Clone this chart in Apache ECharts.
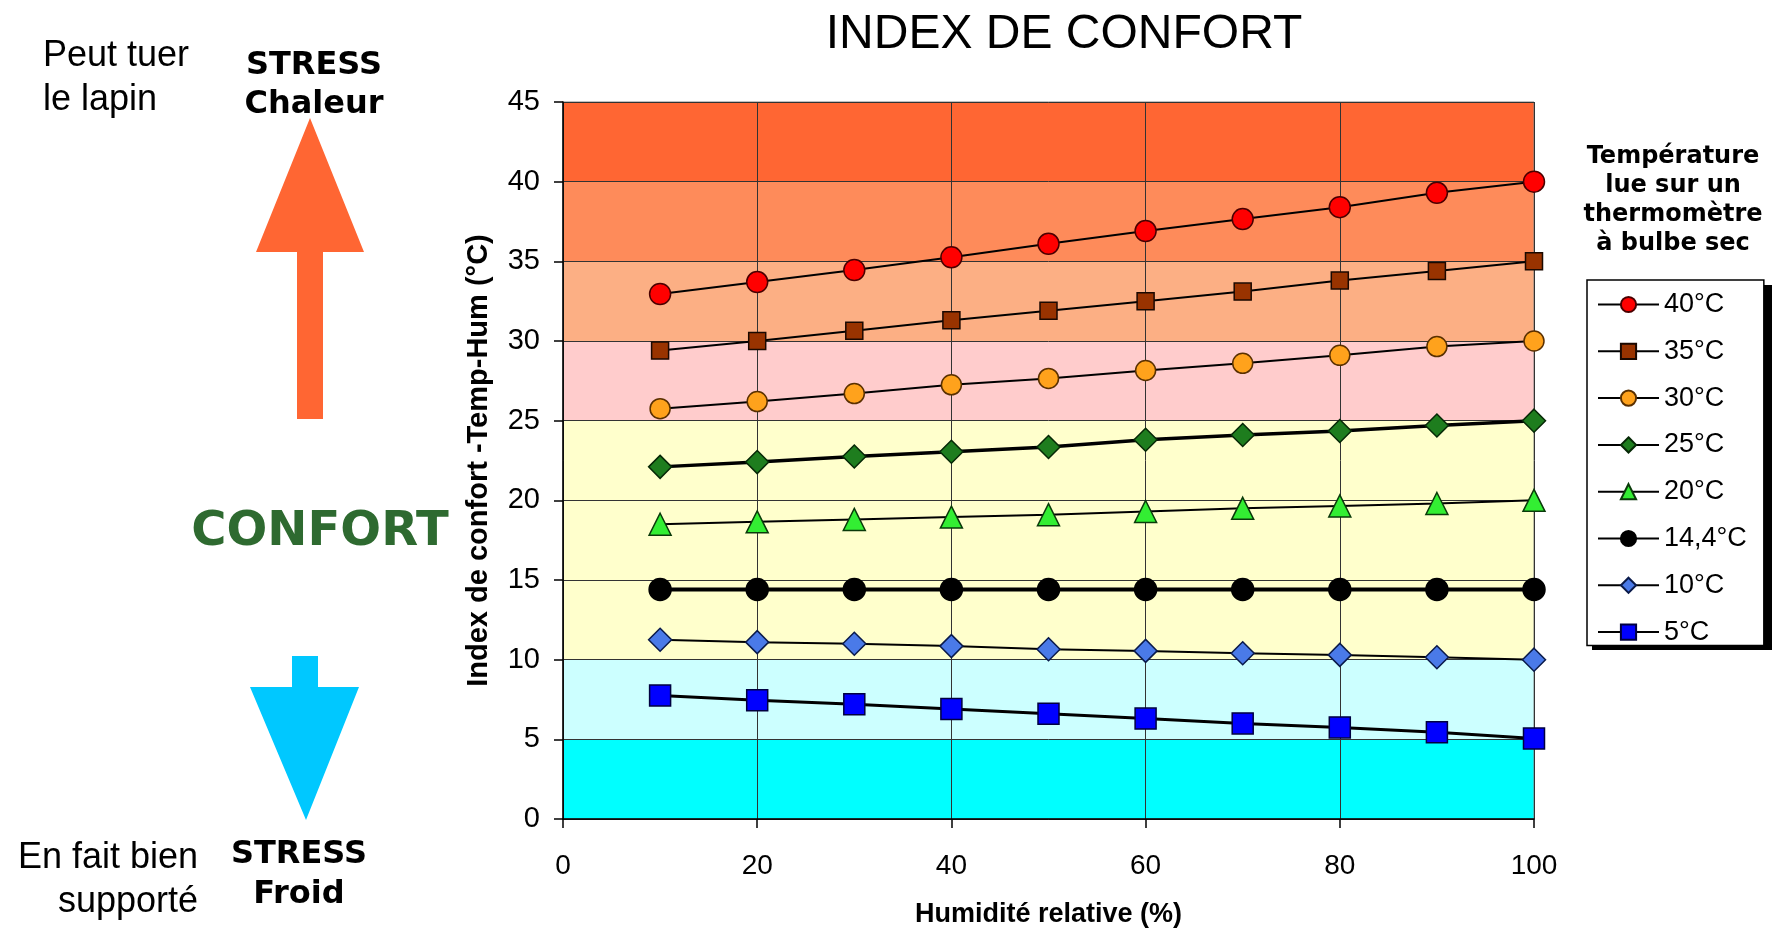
<!DOCTYPE html>
<html>
<head>
<meta charset="utf-8">
<title>Index de confort</title>
<script src="https://cdn.jsdelivr.net/npm/echarts@6/dist/echarts.min.js"></script>
<style>
  html, body { margin: 0; padding: 0; background: #fff; }
  #chart { width: 1776px; height: 929px; }
</style>
</head>
<body>
<div id="chart"></div>
<script>
// Relative humidity (%) on the x axis
const humidity = [10, 20, 30, 40, 50, 60, 70, 80, 90, 100];

// Comfort index (°C) for each dry-bulb temperature
const t40 = [32.95, 33.7, 34.45, 35.25, 36.1, 36.9, 37.65, 38.4, 39.3, 40.0];
const t35 = [29.4, 30.0, 30.65, 31.3, 31.9, 32.5, 33.1, 33.8, 34.4, 35.0];
const t30 = [25.75, 26.2, 26.7, 27.25, 27.65, 28.15, 28.6, 29.1, 29.65, 30.0];
const t25 = [22.1, 22.4, 22.75, 23.05, 23.35, 23.8, 24.1, 24.35, 24.7, 25.0];
const t20 = [18.5, 18.65, 18.8, 18.95, 19.1, 19.3, 19.5, 19.65, 19.8, 20.0];
const t14 = [14.4, 14.4, 14.4, 14.4, 14.4, 14.4, 14.4, 14.4, 14.4, 14.4];
const t10 = [11.25, 11.1, 11.0, 10.85, 10.65, 10.55, 10.4, 10.3, 10.15, 10.0];
const t5 = [7.75, 7.45, 7.2, 6.9, 6.6, 6.3, 6.0, 5.75, 5.45, 5.05];

const seriesNames = ['40°C', '35°C', '30°C', '25°C', '20°C', '14,4°C', '10°C', '5°C'];
const seriesValues = [t40, t35, t30, t25, t20, t14, t10, t5];

// Background comfort zones (bounds in °C) and their fills
const zoneBounds = [0, 5, 10, 25, 30, 35, 40, 45];
const zoneColors = ['#00FFFF', '#CCFFFF', '#FFFFCC', '#FFCCCC', '#FCAF84', '#FE8B5A', '#FF6633'];

// Marker and line appearance per series
const seriesStyles = [
  { symbol: 'circle',   size: 21, fill: '#FF0000', border: '#4A0000', line: 2 },
  { symbol: 'rect',     size: 17, fill: '#993300', border: '#1A0800', line: 2 },
  { symbol: 'circle',   size: 20, fill: '#FFA21C', border: '#5A3000', line: 2 },
  { symbol: 'diamond',  size: 23, fill: '#1E7D1E', border: '#062806', line: 3.5 },
  { symbol: 'triangle', size: 22, fill: '#33EE33', border: '#0A3A0A', line: 2 },
  { symbol: 'circle',   size: 22, fill: '#000000', border: '#000000', line: 4 },
  { symbol: 'diamond',  size: 23, fill: '#4A7AE8', border: '#0A1A4A', line: 2 },
  { symbol: 'rect',     size: 21, fill: '#0000FF', border: '#000040', line: 3 }
];

const chart = echarts.init(document.getElementById('chart'), null, { renderer: 'canvas' });

const lineSeries = seriesNames.map((name, i) => {
  const st = seriesStyles[i];
  return {
    name: name,
    type: 'line',
    z: 5,
    data: humidity.map((h, k) => [h, seriesValues[i][k]]),
    symbol: st.symbol,
    symbolSize: st.size,
    showAllSymbol: true,
    lineStyle: { color: '#000', width: st.line },
    itemStyle: { color: st.fill, borderColor: st.border, borderWidth: 1.5 },
    emphasis: { disabled: true }
  };
});

const zoneSeries = {
  type: 'custom',
  z: 1,
  silent: true,
  data: zoneBounds.slice(0, -1).map((lo, i) => [lo, zoneBounds[i + 1], i]),
  encode: { x: 0, y: 1 },
  renderItem: function (params, api) {
    const lo = api.value(0), hi = api.value(1);
    const p1 = api.coord([0, hi]);
    const p2 = api.coord([100, lo]);
    return {
      type: 'rect',
      shape: { x: p1[0], y: p1[1], width: p2[0] - p1[0], height: p2[1] - p1[1] },
      style: { fill: zoneColors[api.value(2)] }
    };
  }
};

const sansFont = '"Liberation Sans", Arial, sans-serif';
const boldFont = '"DejaVu Sans", Verdana, sans-serif';

function txt(text, x, y, font, align, fill) {
  return {
    type: 'text', x: x, y: y, silent: true, z: 10,
    style: { text: text, font: font, fill: fill || '#000', align: align, verticalAlign: 'middle' }
  };
}

// Legend box placement (the drop shadow is drawn behind it)
const legendLeft = 1587, legendTop = 280;

const option = {
  animation: false,
  backgroundColor: '#fff',
  title: {
    text: 'INDEX DE CONFORT',
    left: 1059, top: 6, textAlign: 'center',
    textStyle: { fontFamily: sansFont, fontSize: 48, fontWeight: 'normal', color: '#000' }
  },
  grid: {
    left: 563, right: 242, top: 102, bottom: 110,
    outerBoundsMode: 'none',
    containLabel: false,
    show: true, z: 2,
    backgroundColor: 'transparent', borderColor: '#808080', borderWidth: 1
  },
  legend: {
    data: seriesNames,
    orient: 'vertical',
    left: legendLeft, top: legendTop,
    itemWidth: 61, itemHeight: 19, itemGap: 19.8,
    padding: [11, 17, 0, 10],
    backgroundColor: '#fff',
    borderColor: '#000', borderWidth: 1.5,
    selectedMode: false,
    textStyle: { fontFamily: sansFont, fontSize: 27, color: '#000', lineHeight: 24 }
  },
  xAxis: {
    type: 'value', min: 0, max: 100, interval: 20, z: 3,
    name: 'Humidité relative (%)',
    nameLocation: 'middle', nameGap: 82,
    nameTextStyle: { fontFamily: sansFont, fontSize: 27, fontWeight: 'bold', color: '#000' },
    axisLine: { show: true, lineStyle: { color: '#000', width: 1.5 } },
    axisTick: { show: true, inside: false, length: 9, lineStyle: { color: '#000', width: 1.5 } },
    axisLabel: { fontFamily: sansFont, fontSize: 28, color: '#000', margin: 33 },
    splitLine: { show: true, lineStyle: { color: '#333', width: 1 } }
  },
  yAxis: {
    type: 'value', min: 0, max: 45, interval: 5, z: 3,
    name: 'Index de confort -Temp-Hum (°C)',
    nameLocation: 'middle', nameGap: 70, nameRotate: 90,
    nameTextStyle: { fontFamily: sansFont, fontSize: 29, fontWeight: 'bold', color: '#000' },
    axisLine: { show: true, lineStyle: { color: '#000', width: 1.5 } },
    axisTick: { show: true, inside: false, length: 9, lineStyle: { color: '#000', width: 1.5 } },
    axisLabel: { fontFamily: sansFont, fontSize: 29, color: '#000', margin: 23 },
    splitLine: { show: true, lineStyle: { color: '#333', width: 1 } }
  },
  graphic: [
    // Drop shadow of the legend box
    {
      type: 'rect', silent: true, z: 1,
      shape: { x: legendLeft + 5, y: legendTop + 5, width: 180, height: 365 },
      style: { fill: '#000' }
    },
    // Heat stress arrow (up) and cold stress arrow (down)
    {
      type: 'polygon', silent: true, z: 10,
      shape: { points: [[310, 118], [364, 252], [323, 252], [323, 419], [297, 419], [297, 252], [256, 252]] },
      style: { fill: '#FF6633' }
    },
    {
      type: 'polygon', silent: true, z: 10,
      shape: { points: [[292, 656], [318, 656], [318, 687], [359, 687], [306, 820], [250, 687], [292, 687]] },
      style: { fill: '#00C8FF' }
    },
    txt('Peut tuer', 43, 56, '36px ' + sansFont, 'left'),
    txt('le lapin', 43, 100, '36px ' + sansFont, 'left'),
    txt('STRESS', 314, 66, 'bold 32px ' + boldFont, 'center'),
    txt('Chaleur', 314, 105, 'bold 32px ' + boldFont, 'center'),
    txt('CONFORT', 320, 533, 'bold 48px ' + boldFont, 'center', '#2E6A30'),
    txt('En fait bien', 198, 858, '36px ' + sansFont, 'right'),
    txt('supporté', 198, 902, '36px ' + sansFont, 'right'),
    txt('STRESS', 299, 855, 'bold 32px ' + boldFont, 'center'),
    txt('Froid', 299, 895, 'bold 32px ' + boldFont, 'center'),
    // Legend heading
    txt('Température', 1673, 157, 'bold 24px ' + boldFont, 'center'),
    txt('lue sur un', 1673, 186, 'bold 24px ' + boldFont, 'center'),
    txt('thermomètre', 1673, 215, 'bold 24px ' + boldFont, 'center'),
    txt('à bulbe sec', 1673, 244, 'bold 24px ' + boldFont, 'center')
  ],
  series: [zoneSeries].concat(lineSeries)
};

chart.setOption(option);
</script>
</body>
</html>
